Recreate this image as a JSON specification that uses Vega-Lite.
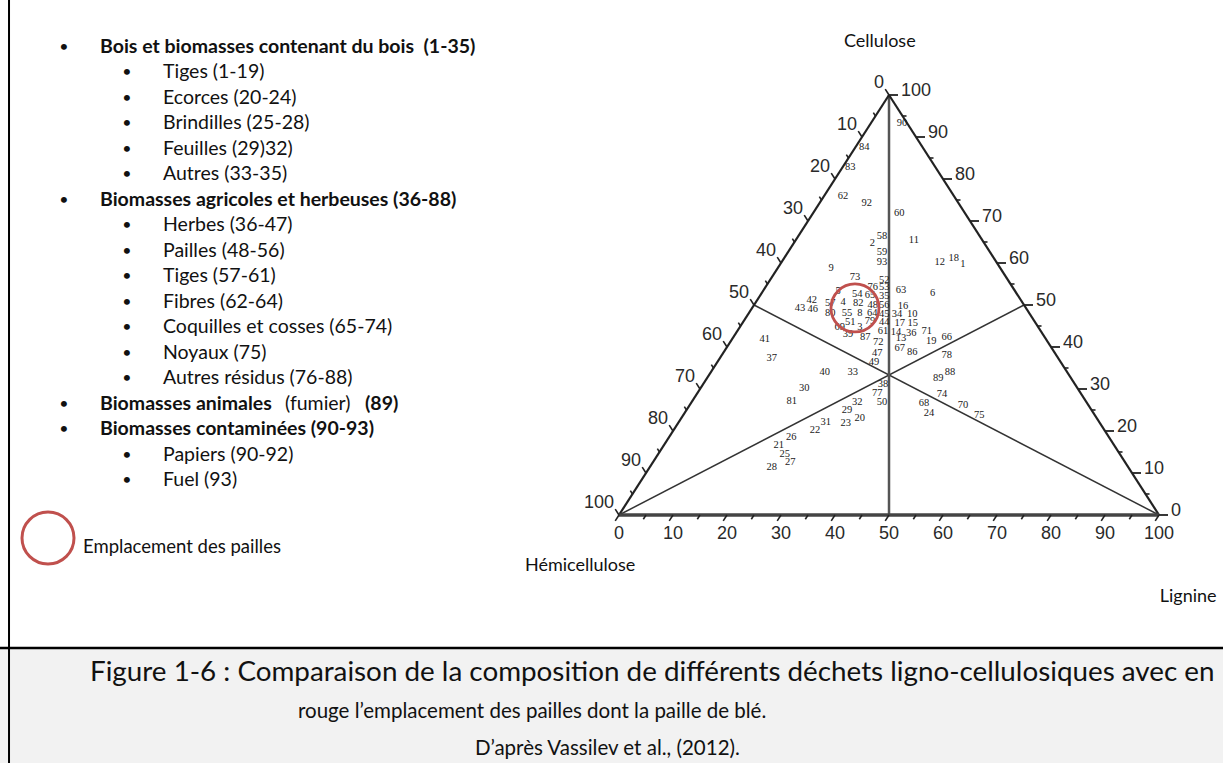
{
  "$schema": "https://vega.github.io/schema/vega-lite/v6.json",
  "width": 1223,
  "height": 763,
  "autosize": {"type": "none"},
  "padding": 0,
  "background": "#ffffff",
  "config": {"view": {"stroke": null}, "text": {"font": "Lato"}},
  "datasets": {
    "ticks": [
      {"side": "b", "major": true, "x": 0, "y": 0, "t": "0"},
      {"side": "b", "major": true, "x": 10, "y": 0, "t": "10"},
      {"side": "b", "major": true, "x": 20, "y": 0, "t": "20"},
      {"side": "b", "major": true, "x": 30, "y": 0, "t": "30"},
      {"side": "b", "major": true, "x": 40, "y": 0, "t": "40"},
      {"side": "b", "major": true, "x": 50, "y": 0, "t": "50"},
      {"side": "b", "major": true, "x": 60, "y": 0, "t": "60"},
      {"side": "b", "major": true, "x": 70, "y": 0, "t": "70"},
      {"side": "b", "major": true, "x": 80, "y": 0, "t": "80"},
      {"side": "b", "major": true, "x": 90, "y": 0, "t": "90"},
      {"side": "b", "major": true, "x": 100, "y": 0, "t": "100"},
      {"side": "b", "major": false, "x": 5, "y": 0},
      {"side": "b", "major": false, "x": 15, "y": 0},
      {"side": "b", "major": false, "x": 25, "y": 0},
      {"side": "b", "major": false, "x": 35, "y": 0},
      {"side": "b", "major": false, "x": 45, "y": 0},
      {"side": "b", "major": false, "x": 55, "y": 0},
      {"side": "b", "major": false, "x": 65, "y": 0},
      {"side": "b", "major": false, "x": 75, "y": 0},
      {"side": "b", "major": false, "x": 85, "y": 0},
      {"side": "b", "major": false, "x": 95, "y": 0},
      {"side": "l", "major": true, "x": 50, "y": 100, "t": "0"},
      {"side": "l", "major": true, "x": 45, "y": 90, "t": "10"},
      {"side": "l", "major": true, "x": 40, "y": 80, "t": "20"},
      {"side": "l", "major": true, "x": 35, "y": 70, "t": "30"},
      {"side": "l", "major": true, "x": 30, "y": 60, "t": "40"},
      {"side": "l", "major": true, "x": 25, "y": 50, "t": "50"},
      {"side": "l", "major": true, "x": 20, "y": 40, "t": "60"},
      {"side": "l", "major": true, "x": 15, "y": 30, "t": "70"},
      {"side": "l", "major": true, "x": 10, "y": 20, "t": "80"},
      {"side": "l", "major": true, "x": 5, "y": 10, "t": "90"},
      {"side": "l", "major": true, "x": 0, "y": 0, "t": "100"},
      {"side": "l", "major": false, "x": 47.5, "y": 95},
      {"side": "l", "major": false, "x": 42.5, "y": 85},
      {"side": "l", "major": false, "x": 37.5, "y": 75},
      {"side": "l", "major": false, "x": 32.5, "y": 65},
      {"side": "l", "major": false, "x": 27.5, "y": 55},
      {"side": "l", "major": false, "x": 22.5, "y": 45},
      {"side": "l", "major": false, "x": 17.5, "y": 35},
      {"side": "l", "major": false, "x": 12.5, "y": 25},
      {"side": "l", "major": false, "x": 7.5, "y": 15},
      {"side": "l", "major": false, "x": 2.5, "y": 5},
      {"side": "r", "major": true, "x": 100, "y": 0, "t": "0"},
      {"side": "r", "major": true, "x": 95, "y": 10, "t": "10"},
      {"side": "r", "major": true, "x": 90, "y": 20, "t": "20"},
      {"side": "r", "major": true, "x": 85, "y": 30, "t": "30"},
      {"side": "r", "major": true, "x": 80, "y": 40, "t": "40"},
      {"side": "r", "major": true, "x": 75, "y": 50, "t": "50"},
      {"side": "r", "major": true, "x": 70, "y": 60, "t": "60"},
      {"side": "r", "major": true, "x": 65, "y": 70, "t": "70"},
      {"side": "r", "major": true, "x": 60, "y": 80, "t": "80"},
      {"side": "r", "major": true, "x": 55, "y": 90, "t": "90"},
      {"side": "r", "major": true, "x": 50, "y": 100, "t": "100"},
      {"side": "r", "major": false, "x": 97.5, "y": 5},
      {"side": "r", "major": false, "x": 92.5, "y": 15},
      {"side": "r", "major": false, "x": 87.5, "y": 25},
      {"side": "r", "major": false, "x": 82.5, "y": 35},
      {"side": "r", "major": false, "x": 77.5, "y": 45},
      {"side": "r", "major": false, "x": 72.5, "y": 55},
      {"side": "r", "major": false, "x": 67.5, "y": 65},
      {"side": "r", "major": false, "x": 62.5, "y": 75},
      {"side": "r", "major": false, "x": 57.5, "y": 85},
      {"side": "r", "major": false, "x": 52.5, "y": 95}
    ],
    "samples": [
      {"n": "90", "x": 52.4, "y": 93.3},
      {"n": "84", "x": 45.4, "y": 87.6},
      {"n": "83", "x": 42.8, "y": 82.9},
      {"n": "62", "x": 41.5, "y": 76.0},
      {"n": "92", "x": 45.9, "y": 74.3},
      {"n": "60", "x": 51.9, "y": 71.9},
      {"n": "58", "x": 48.7, "y": 66.4},
      {"n": "2", "x": 46.9, "y": 64.8},
      {"n": "59", "x": 48.7, "y": 62.6},
      {"n": "93", "x": 48.7, "y": 60.2},
      {"n": "11", "x": 54.6, "y": 65.5},
      {"n": "12", "x": 59.4, "y": 60.2},
      {"n": "18", "x": 62.0, "y": 61.2},
      {"n": "1", "x": 63.7, "y": 59.8},
      {"n": "9", "x": 39.3, "y": 58.8},
      {"n": "73", "x": 43.7, "y": 56.7},
      {"n": "52", "x": 49.1, "y": 56.0},
      {"n": "53", "x": 49.1, "y": 54.3},
      {"n": "35", "x": 49.1, "y": 52.1},
      {"n": "56", "x": 49.1, "y": 50.0},
      {"n": "45", "x": 49.1, "y": 47.9},
      {"n": "44", "x": 49.1, "y": 46.0},
      {"n": "5", "x": 40.6, "y": 53.3},
      {"n": "76", "x": 47.0, "y": 54.3},
      {"n": "63", "x": 52.2, "y": 53.6},
      {"n": "6", "x": 58.1, "y": 52.9},
      {"n": "54", "x": 44.1, "y": 52.6},
      {"n": "65", "x": 46.5, "y": 52.4},
      {"n": "42", "x": 35.7, "y": 51.2},
      {"n": "4", "x": 41.5, "y": 50.7},
      {"n": "82", "x": 44.3, "y": 50.5},
      {"n": "48", "x": 47.0, "y": 50.0},
      {"n": "16", "x": 52.6, "y": 49.8},
      {"n": "43", "x": 33.5, "y": 49.3},
      {"n": "46", "x": 35.9, "y": 49.0},
      {"n": "57", "x": 39.1, "y": 50.5},
      {"n": "80", "x": 39.1, "y": 48.1},
      {"n": "55", "x": 42.2, "y": 48.1},
      {"n": "8", "x": 44.6, "y": 48.1},
      {"n": "64", "x": 46.9, "y": 48.1},
      {"n": "34", "x": 51.5, "y": 47.9},
      {"n": "10", "x": 54.3, "y": 47.9},
      {"n": "17", "x": 52.0, "y": 45.7},
      {"n": "15", "x": 54.4, "y": 45.7},
      {"n": "51", "x": 42.8, "y": 46.0},
      {"n": "79", "x": 46.5, "y": 46.2},
      {"n": "69", "x": 40.9, "y": 44.8},
      {"n": "3", "x": 44.6, "y": 44.8},
      {"n": "61", "x": 48.9, "y": 43.8},
      {"n": "14", "x": 51.3, "y": 43.6},
      {"n": "36", "x": 54.1, "y": 43.3},
      {"n": "39", "x": 42.4, "y": 43.1},
      {"n": "87", "x": 45.6, "y": 42.4},
      {"n": "72", "x": 48.0, "y": 41.2},
      {"n": "13", "x": 52.2, "y": 42.1},
      {"n": "71", "x": 57.0, "y": 43.8},
      {"n": "19", "x": 57.8, "y": 41.4},
      {"n": "66", "x": 60.7, "y": 42.4},
      {"n": "67", "x": 52.0, "y": 39.8},
      {"n": "86", "x": 54.3, "y": 38.8},
      {"n": "47", "x": 47.8, "y": 38.6},
      {"n": "49", "x": 47.2, "y": 36.4},
      {"n": "78", "x": 60.7, "y": 38.1},
      {"n": "40", "x": 38.1, "y": 34.0},
      {"n": "33", "x": 43.3, "y": 34.0},
      {"n": "88", "x": 61.3, "y": 34.0},
      {"n": "89", "x": 59.1, "y": 32.6},
      {"n": "41", "x": 27.0, "y": 41.9},
      {"n": "37", "x": 28.3, "y": 37.4},
      {"n": "38", "x": 48.9, "y": 31.2},
      {"n": "77", "x": 47.8, "y": 29.0},
      {"n": "50", "x": 48.7, "y": 26.9},
      {"n": "30", "x": 34.3, "y": 30.2},
      {"n": "81", "x": 32.0, "y": 27.1},
      {"n": "32", "x": 44.1, "y": 26.9},
      {"n": "29", "x": 42.2, "y": 25.0},
      {"n": "20", "x": 44.6, "y": 23.1},
      {"n": "23", "x": 42.0, "y": 21.9},
      {"n": "31", "x": 38.3, "y": 22.1},
      {"n": "22", "x": 36.3, "y": 20.2},
      {"n": "26", "x": 31.9, "y": 18.6},
      {"n": "21", "x": 29.6, "y": 16.7},
      {"n": "25", "x": 30.7, "y": 14.5},
      {"n": "27", "x": 31.7, "y": 12.6},
      {"n": "28", "x": 28.3, "y": 11.4},
      {"n": "74", "x": 59.8, "y": 28.8},
      {"n": "68", "x": 56.5, "y": 26.7},
      {"n": "24", "x": 57.4, "y": 24.3},
      {"n": "70", "x": 63.7, "y": 26.2},
      {"n": "75", "x": 66.7, "y": 23.8}
    ],
    "items": [
      {"line": 1, "level": 1, "piece": 0, "weight": "bold", "text": "Bois et biomasses contenant du bois\u00a0 (1-35)"},
      {"line": 2, "level": 2, "piece": 0, "weight": "normal", "text": "Tiges (1-19)"},
      {"line": 3, "level": 2, "piece": 0, "weight": "normal", "text": "Ecorces (20-24)"},
      {"line": 4, "level": 2, "piece": 0, "weight": "normal", "text": "Brindilles (25-28)"},
      {"line": 5, "level": 2, "piece": 0, "weight": "normal", "text": "Feuilles (29)32)"},
      {"line": 6, "level": 2, "piece": 0, "weight": "normal", "text": "Autres (33-35)"},
      {"line": 7, "level": 1, "piece": 0, "weight": "bold", "text": "Biomasses agricoles et herbeuses (36-88)"},
      {"line": 8, "level": 2, "piece": 0, "weight": "normal", "text": "Herbes (36-47)"},
      {"line": 9, "level": 2, "piece": 0, "weight": "normal", "text": "Pailles (48-56)"},
      {"line": 10, "level": 2, "piece": 0, "weight": "normal", "text": "Tiges (57-61)"},
      {"line": 11, "level": 2, "piece": 0, "weight": "normal", "text": "Fibres (62-64)"},
      {"line": 12, "level": 2, "piece": 0, "weight": "normal", "text": "Coquilles et cosses (65-74)"},
      {"line": 13, "level": 2, "piece": 0, "weight": "normal", "text": "Noyaux (75)"},
      {"line": 14, "level": 2, "piece": 0, "weight": "normal", "text": "Autres résidus (76-88)"},
      {"line": 15, "level": 1, "piece": 0, "weight": "bold", "text": "Biomasses animales"},
      {"line": 15, "level": 1, "piece": 1, "weight": "normal", "text": "(fumier)"},
      {"line": 15, "level": 1, "piece": 2, "weight": "bold", "text": "(89)"},
      {"line": 16, "level": 1, "piece": 0, "weight": "bold", "text": "Biomasses contaminées (90-93)"},
      {"line": 17, "level": 2, "piece": 0, "weight": "normal", "text": "Papiers (90-92)"},
      {"line": 18, "level": 2, "piece": 0, "weight": "normal", "text": "Fuel (93)"}
    ]
  },
  "resolve": {"scale": {"x": "independent", "y": "independent"}},
  "layer": [
    {
      "encoding": {
        "x": {"field": "x", "type": "quantitative", "axis": null, "scale": {"domain": [-114.63, 111.85], "nice": false, "zero": false}},
        "y": {"field": "y", "type": "quantitative", "axis": null, "scale": {"domain": [-59.05, 122.62], "nice": false, "zero": false}}
      },
      "layer": [
        {
          "data": {"values": [{"x": -114.63, "y": -31.67, "x2": 111.85, "y2": -59.05}]},
          "mark": {"type": "rect", "fill": "#f2f2f2"},
          "encoding": {"x2": {"field": "x2"}, "y2": {"field": "y2"}}
        },
        {
          "data": {"values": [{"x": -114.63, "y": -31.67, "x2": 111.85}]},
          "mark": {"type": "rule", "stroke": "#000000", "strokeWidth": 2.5},
          "encoding": {"x2": {"field": "x2"}}
        },
        {
          "data": {"values": [{"x": -112.96, "y": 122.62, "y2": -59.05}]},
          "mark": {"type": "rule", "stroke": "#000000", "strokeWidth": 2},
          "encoding": {"y2": {"field": "y2"}}
        },
        {
          "data": {"values": [{"x": 0, "y": 0, "x2": 75, "y2": 50}, {"x": 100, "y": 0, "x2": 25, "y2": 50}]},
          "mark": {"type": "rule", "stroke": "#333333", "strokeWidth": 1.5},
          "encoding": {"x2": {"field": "x2"}, "y2": {"field": "y2"}}
        },
        {
          "data": {"values": [{"x": 50, "y": 0, "x2": 50, "y2": 100}]},
          "mark": {"type": "rule", "stroke": "#555555", "strokeWidth": 2.5},
          "encoding": {"x2": {"field": "x2"}, "y2": {"field": "y2"}}
        },
        {
          "data": {"values": [{"x": 0, "y": 0, "x2": 50, "y2": 100}, {"x": 100, "y": 0, "x2": 50, "y2": 100}]},
          "mark": {"type": "rule", "stroke": "#222222", "strokeWidth": 2.2},
          "encoding": {"x2": {"field": "x2"}, "y2": {"field": "y2"}}
        },
        {
          "data": {"values": [{"x": 0, "y": 0, "x2": 100, "y2": 0}]},
          "mark": {"type": "rule", "stroke": "#444444", "strokeWidth": 3.5},
          "encoding": {"x2": {"field": "x2"}, "y2": {"field": "y2"}}
        },
        {
          "data": {"name": "ticks"},
          "transform": [{"filter": "datum.side == 'b' && datum.major"}],
          "mark": {"type": "point", "shape": "M0,0L-0.54,0.84", "size": 196, "filled": false, "stroke": "#222222", "strokeWidth": 1.6, "opacity": 1}
        },
        {
          "data": {"name": "ticks"},
          "transform": [{"filter": "datum.side == 'b' && !datum.major"}],
          "mark": {"type": "point", "shape": "M0,0L-0.54,0.84", "size": 100, "filled": false, "stroke": "#222222", "strokeWidth": 1.6, "opacity": 1}
        },
        {
          "data": {"name": "ticks"},
          "transform": [{"filter": "datum.side == 'l' && datum.major"}],
          "mark": {"type": "point", "shape": "M0,0L-0.54,-0.84", "size": 196, "filled": false, "stroke": "#222222", "strokeWidth": 1.6, "opacity": 1}
        },
        {
          "data": {"name": "ticks"},
          "transform": [{"filter": "datum.side == 'l' && !datum.major"}],
          "mark": {"type": "point", "shape": "M0,0L-0.54,-0.84", "size": 64, "filled": false, "stroke": "#222222", "strokeWidth": 1.6, "opacity": 1}
        },
        {
          "data": {"name": "ticks"},
          "transform": [{"filter": "datum.side == 'r' && datum.major"}],
          "mark": {"type": "point", "shape": "M0,0L1,0", "size": 324, "filled": false, "stroke": "#222222", "strokeWidth": 1.8, "opacity": 1}
        },
        {
          "data": {"name": "ticks"},
          "transform": [{"filter": "datum.side == 'r' && !datum.major"}],
          "mark": {"type": "point", "shape": "M0,0L1,0", "size": 64, "filled": false, "stroke": "#222222", "strokeWidth": 1.6, "opacity": 1}
        },
        {
          "data": {"name": "ticks"},
          "transform": [{"filter": "datum.side == 'b' && datum.major"}],
          "mark": {"type": "text", "font": "Liberation Sans", "fontSize": 18, "fill": "#2a2a2a", "align": "center", "baseline": "middle", "dy": 19},
          "encoding": {"text": {"field": "t"}}
        },
        {
          "data": {"name": "ticks"},
          "transform": [{"filter": "datum.side == 'l' && datum.major"}],
          "mark": {"type": "text", "font": "Liberation Sans", "fontSize": 18, "fill": "#2a2a2a", "align": "right", "baseline": "middle", "dx": -5, "dy": -12},
          "encoding": {"text": {"field": "t"}}
        },
        {
          "data": {"name": "ticks"},
          "transform": [{"filter": "datum.side == 'r' && datum.major"}],
          "mark": {"type": "text", "font": "Liberation Sans", "fontSize": 18, "fill": "#2a2a2a", "align": "left", "baseline": "middle", "dx": 12, "dy": -4},
          "encoding": {"text": {"field": "t"}}
        },
        {
          "data": {"name": "samples"},
          "mark": {"type": "text", "font": "Liberation Serif", "fontSize": 10.5, "fill": "#1a1a1a", "align": "center", "baseline": "middle"},
          "encoding": {"text": {"field": "n"}}
        },
        {
          "data": {"values": [
            {"x": 48.3, "y": 112.6, "t": "Cellulose"},
            {"x": -7.2, "y": -12.1, "t": "Hémicellulose"},
            {"x": 105.4, "y": -19.5, "t": "Lignine"}
          ]},
          "mark": {"type": "text", "font": "Lato", "fontSize": 18, "fill": "#111111", "align": "center", "baseline": "middle"},
          "encoding": {"text": {"field": "t"}}
        },
        {
          "data": {"values": [
            {"x": -97.96, "y": -37.6, "t": "Figure 1-6 : Comparaison de la composition de différents déchets ligno-cellulosiques avec en"}
          ]},
          "mark": {"type": "text", "font": "Lato", "fontSize": 27.8, "fill": "#111111", "align": "left", "baseline": "middle"},
          "encoding": {"text": {"field": "t"}}
        },
        {
          "data": {"values": [
            {"x": -59.44, "y": -46.9, "t": "rouge l’emplacement des pailles dont la paille de blé."},
            {"x": -26.67, "y": -55.7, "t": "D’après Vassilev et al., (2012)."}
          ]},
          "mark": {"type": "text", "font": "Lato", "fontSize": 20.5, "fill": "#111111", "align": "left", "baseline": "middle"},
          "encoding": {"text": {"field": "t"}}
        },
        {
          "data": {"values": [{"x": 43.7, "y": 49.3, "zone": "Emplacement des pailles"}]},
          "mark": {"type": "point", "shape": "circle", "size": 2304, "filled": false, "strokeWidth": 2.8, "opacity": 1},
          "encoding": {
            "stroke": {
              "field": "zone", "type": "nominal",
              "scale": {"range": ["#C0504D"]},
              "legend": {
                "orient": "none", "legendX": 20.5, "legendY": 510.5, "title": null, "padding": 0,
                "symbolType": "circle", "symbolSize": 2704, "symbolStrokeWidth": 3, "symbolFillColor": "transparent",
                "labelFont": "Lato", "labelFontSize": 18.5, "labelColor": "#111111", "labelOffset": 7.5,
                "labelBaseline": "top", "labelLimit": 400
              }
            }
          }
        }
      ]
    },
    {
      "data": {"name": "items"},
      "encoding": {
        "x": {"field": "level", "type": "quantitative", "axis": null, "scale": {"domain": [-0.5873, 18.8254], "nice": false, "zero": false}},
        "y": {"field": "line", "type": "quantitative", "axis": null, "scale": {"domain": [-0.8431, 29.0789], "reverse": true, "nice": false, "zero": false}}
      },
      "layer": [
        {
          "transform": [{"filter": "datum.piece == 0"}],
          "mark": {"type": "text", "text": "•", "font": "Lato", "fontSize": 16, "fill": "#111111", "align": "center", "baseline": "middle", "dx": -36}
        },
        {
          "transform": [{"filter": "datum.piece == 0 && datum.weight == 'normal'"}],
          "mark": {"type": "text", "font": "Lato", "fontSize": 19.5, "fill": "#111111", "align": "left", "baseline": "middle"},
          "encoding": {"text": {"field": "text"}}
        },
        {
          "transform": [{"filter": "datum.piece == 0 && datum.weight == 'bold'"}],
          "mark": {"type": "text", "font": "Lato", "fontSize": 19.5, "fontWeight": "bold", "fill": "#111111", "align": "left", "baseline": "middle"},
          "encoding": {"text": {"field": "text"}}
        },
        {
          "transform": [{"filter": "datum.piece == 1"}],
          "mark": {"type": "text", "font": "Lato", "fontSize": 19.5, "fill": "#111111", "align": "left", "baseline": "middle", "dx": 185},
          "encoding": {"text": {"field": "text"}}
        },
        {
          "transform": [{"filter": "datum.piece == 2"}],
          "mark": {"type": "text", "font": "Lato", "fontSize": 19.5, "fontWeight": "bold", "fill": "#111111", "align": "left", "baseline": "middle", "dx": 265},
          "encoding": {"text": {"field": "text"}}
        }
      ]
    }
  ]
}
